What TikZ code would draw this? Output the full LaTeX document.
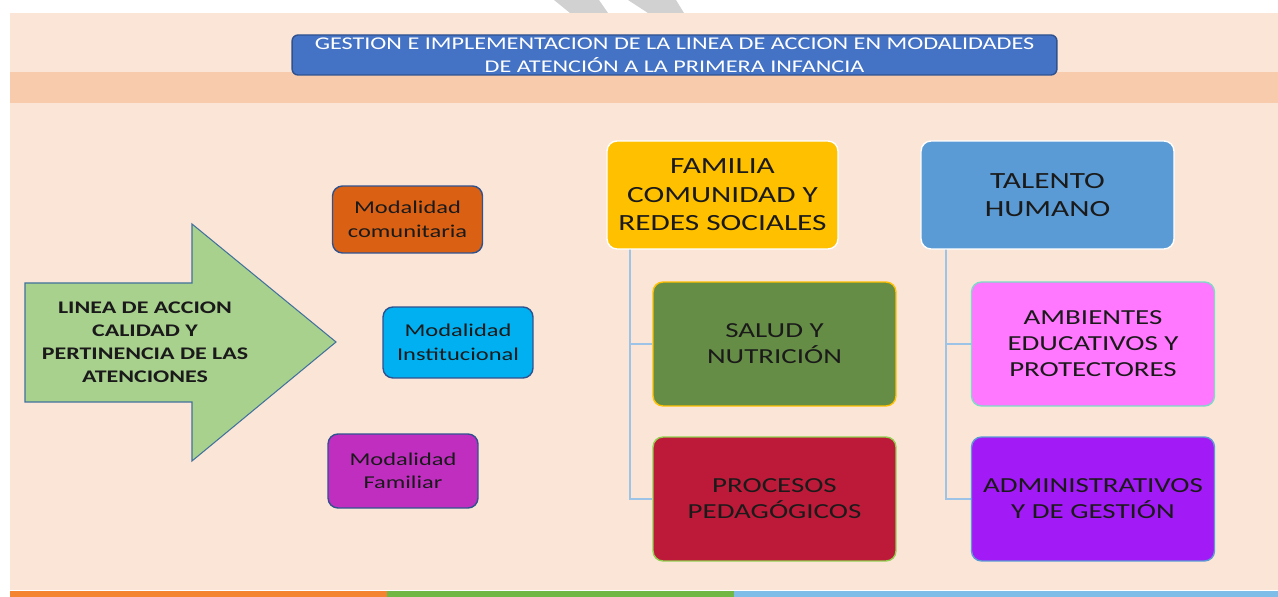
\documentclass[tikz,border=0pt]{standalone}
\usepackage{fontspec}
\setmainfont{Carlito}[FakeStretch=1.35]
\usepackage{tikz}
\pgfdeclarelayer{bg}
\pgfsetlayers{bg,main}
\definecolor{peach}{HTML}{FBE5D6}
\definecolor{peachdark}{HTML}{F8CBAD}
\definecolor{titleblue}{HTML}{4472C4}
\definecolor{edgeblue}{HTML}{2F528F}
\definecolor{linkblue}{HTML}{9DC3E6}
\definecolor{arrowgreen}{HTML}{A9D18E}
\definecolor{arrowedge}{HTML}{41719C}
\definecolor{comorange}{HTML}{DA6014}
\definecolor{instcyan}{HTML}{00B0F0}
\definecolor{fammagenta}{HTML}{C02EC0}
\definecolor{famgold}{HTML}{FFC000}
\definecolor{talblue}{HTML}{5B9BD5}
\definecolor{salgreen}{HTML}{668D45}
\definecolor{procred}{HTML}{BC1A38}
\definecolor{ambpink}{HTML}{FF78FF}
\definecolor{ambedge}{HTML}{7FD8C8}
\definecolor{admviolet}{HTML}{A21AF6}
\definecolor{limeedge}{HTML}{92D050}
\definecolor{barorange}{HTML}{F4842F}
\definecolor{bargreen}{HTML}{70B843}
\definecolor{barblue}{HTML}{7DBDE8}
\definecolor{inkgray}{HTML}{1A1A1A}
\tikzset{
    box/.style={rectangle, rounded corners=0.2cm, align=center, inner sep=0mm,
        line width=0.8pt, text=inkgray},
    modal/.style={box, draw=edgeblue, minimum width=3cm,
        font=\fontsize{10.3}{13.4}\selectfont},
    head/.style={box, draw=white, minimum height=2.16cm,
        font=\fontsize{13.2}{16.2}\selectfont},
    leaf/.style={box, minimum width=4.86cm, minimum height=2.48cm,
        font=\fontsize{12.2}{14.8}\selectfont},
    link/.style={draw=linkblue, line width=1.1pt}
}

\begin{document}
\begin{tikzpicture}[x=0.02cm, y=-0.02cm]
    \useasboundingbox (0,0) rectangle (1278,597);

    \node (title) [box, draw=edgeblue, fill=titleblue, text=white,
        minimum width=15.3cm, minimum height=0.8cm, rounded corners=0.12cm,
        font=\fontsize{10.2}{13}\selectfont] at (674.5,55)
        {GESTION E IMPLEMENTACION DE LA LINEA DE ACCION EN MODALIDADES\\
         DE ATENCIÓN A LA PRIMERA INFANCIA};

    % big arrow
    \filldraw[fill=arrowgreen, draw=arrowedge, line width=0.6pt]
        (25,283) -- (192,283) -- (192,224) -- (336,342)
        -- (192,461) -- (192,402) -- (25,402) -- cycle;
    \node (linea) [align=center, inner sep=0mm, text=inkgray,
        font=\bfseries\fontsize{10.1}{13}\selectfont] at (145,342)
        {LINEA DE ACCION\\ CALIDAD Y\\ PERTINENCIA DE LAS\\ ATENCIONES};

    \node (com) [modal, fill=comorange, minimum height=1.34cm] at (407.5,219.5)
        {Modalidad\\ comunitaria};
    \node (inst) [modal, fill=instcyan, minimum height=1.42cm] at (458,342.5)
        {Modalidad\\ Institucional};
    \node (fam) [modal, fill=fammagenta, minimum height=1.48cm] at (403,471)
        {Modalidad\\ Familiar};

    \node (familia) [head, fill=famgold, minimum width=4.62cm] at (722.5,195)
        {FAMILIA\\ COMUNIDAD Y\\ REDES SOCIALES};
    \node (talento) [head, fill=talblue, minimum width=5.06cm] at (1047.5,195)
        {TALENTO\\ HUMANO};

    \node (salud) [leaf, draw=famgold, fill=salgreen] at (774.5,344)
        {SALUD Y\\ NUTRICIÓN};
    \node (procesos) [leaf, draw=limeedge, fill=procred] at (774.5,499)
        {PROCESOS\\ PEDAGÓGICOS};
    \node (ambientes) [leaf, draw=ambedge, fill=ambpink] at (1093,344)
        {AMBIENTES\\ EDUCATIVOS Y\\ PROTECTORES};
    \node (admin) [leaf, draw=talblue, fill=admviolet] at (1093,499)
        {ADMINISTRATIVOS\\ Y DE GESTIÓN};

    \coordinate (famroot) at (630,249);
    \coordinate (talroot) at (946,249);

    \begin{pgfonlayer}{bg}
        % backdrop
        \fill[peach] (10,13) rectangle (1278,590);
        \fill[peachdark] (10,72) rectangle (1278,103);
        \fill[barorange] (10,591) rectangle (387,597);
        \fill[bargreen] (387,591) rectangle (734,597);
        \fill[barblue] (734,591) rectangle (1278,597);
        \fill[black!18] (554,0) -- (599,0) -- (608,13) -- (570,13) -- cycle;
        \fill[black!18] (628,0) -- (676,0) -- (684,13) -- (648,13) -- cycle;

        \draw[link] (famroot) |- (salud.west);
        \draw[link] (famroot) |- (procesos.west);
        \draw[link] (talroot) |- (ambientes.west);
        \draw[link] (talroot) |- (admin.west);
    \end{pgfonlayer}
\end{tikzpicture}
\end{document}
